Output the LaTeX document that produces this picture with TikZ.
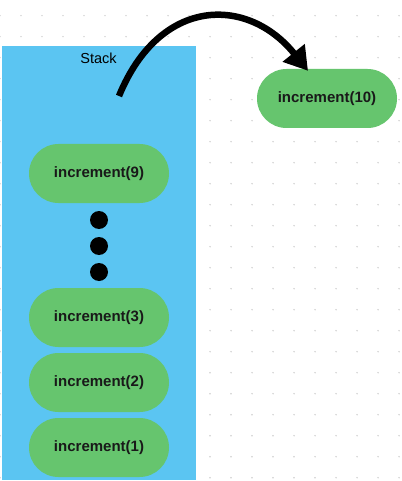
\documentclass[tikz,border=0pt]{standalone}
\usepackage{fontspec}
\setmainfont{Liberation Sans}
\usetikzlibrary{arrows.meta}
\definecolor{stackblue}{HTML}{5BC5F2}
\definecolor{callgreen}{HTML}{66C56E}
\definecolor{griddot}{HTML}{CFCFCF}
\tikzset{
  call/.style={fill=callgreen, rounded corners=29.5pt, minimum width=140pt, minimum height=59pt,
    inner sep=0pt, font=\fontsize{15}{17}\selectfont\bfseries, text=black!90},
  ellip/.style={circle, fill=black, minimum size=18pt, inner sep=0pt},
  callarrow/.style={line width=6.5pt, -{Triangle[length=23pt,width=27pt]}}
}
\begin{document}
\begin{tikzpicture}[x=1pt,y=-1pt]
\useasboundingbox (0,0) rectangle (401,481);
\fill[white] (0,0) rectangle (401,481);
% dot grid
\foreach \i in {0,...,19}{
  \foreach \j in {0,...,22}{
    \fill[griddot] (21*\i,15.7+21*\j) circle (0.8pt);
  }
}
\node[fill=stackblue, minimum width=194pt, minimum height=434pt, inner sep=0pt, anchor=north west] (stack) at (2,46) {};
\node[font=\fontsize{14.5}{16}\selectfont] (stacklabel) at (98.5,58) {Stack};
\node[call] (n9) at (99,173.5) {increment(9)};
\node[ellip] (d1) at (99,220) {};
\node[ellip] (d2) at (99,246) {};
\node[ellip] (d3) at (99,272) {};
\node[call] (n3) at (99,317.5) {increment(3)};
\node[call] (n2) at (99,382.5) {increment(2)};
\node[call] (n1) at (99,447.5) {increment(1)};
\node[call] (n10) at (327,98.5) {increment(10)};
\coordinate (s) at (119,96);
\draw[callarrow] (s) .. controls (160,-4) and (248,-4) .. ([xshift=-19pt,yshift=-2pt]n10.north);
\end{tikzpicture}
\end{document}
